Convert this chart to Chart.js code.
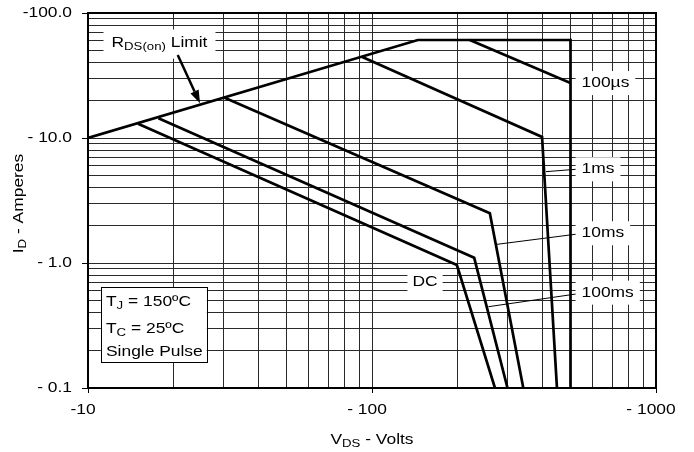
<!DOCTYPE html>
<html><head><meta charset="utf-8">
<script src="https://cdn.jsdelivr.net/npm/chart.js@4.4.0/dist/chart.umd.min.js"></script>
<style>html,body{margin:0;padding:0;background:#fff;}#wrap{width:694px;height:452px;}</style>
</head><body><div id="wrap"><canvas id="c" width="694" height="452"></canvas></div>
<script>
// ---------- data (V in volts, I in amperes; plotted as magnitudes) ----------
const limitV = [10, 145, 500, 500];
const limitI = [10, 60.8, 60.8, 0.1];
const us100V = [221, 500];
const us100I = [60.8, 27.5];
const ms1V = [92, 397, 448];
const ms1I = [44.6, 10.2, 0.1];
const ms10V = [30, 260, 341];
const ms10I = [21.2, 2.5, 0.1];
const ms100V = [17.7, 229, 300];
const ms100I = [14.4, 1.1, 0.1];
const dcV = [15, 199, 271];
const dcI = [13, 0.964, 0.1];

// tick labels
const xMajor = [10, 100, 1000];
const xMajorLabels = ['-10', '- 100', '- 1000'];
const yMajor = [0.1, 1, 10, 100];
const yMajorLabels = ['- 0.1', '- 1.0', '- 10.0', '-100.0'];

// curve labels (text, label V, label I, leader from V, leader from I, leader to V, leader to I)
const curveLabels = ['100µs', '1ms', '10ms', '100ms'];
const curveLabelV = [547, 547, 547, 547];
const curveLabelI = [27.5, 5.62, 1.73, 0.579];
const leaderFromV = [null, 410, 275, 257];
const leaderFromI = [null, 5.38, 1.41, 0.447];
const leaderToI = [null, 5.62, 1.70, 0.565];
const leaderToV = 523;
const dcLabel = 'DC';
const dcLabelV = 153.7, dcLabelI = 0.709;
const rdsLabelV = 12.1, rdsLabelI = 58;
const arrowFrom = [20.7, 46.1], arrowTo = [24.8, 18.95];
const condLines = [['T', 'J', ' = 150ºC'], ['T', 'C', ' = 25ºC'], ['Single Pulse', '', '']];
const condTextV = 11.57;
const condRowI = [0.49, 0.2965, 0.195];
const condBoxV = [11.1, 26.2], condBoxI = [0.643, 0.1614];

// ---------- helpers ----------
const FONT = '"Liberation Sans", Arial, sans-serif';
const SX = 1.2; // horizontal stretch of the reference lettering
const proto = CanvasRenderingContext2D.prototype;
const origFill = proto.fillText;
proto.fillText = function (t, x, y) {
  this.save(); this.translate(x, y); this.scale(SX, 1); origFill.call(this, t, 0, 0); this.restore();
};
function decadeGrid(lo, hi) {
  const out = [];
  for (let e = Math.round(Math.log10(lo)); e < Math.round(Math.log10(hi)); e++)
    for (let m = 1; m < 10; m++) out.push(+(m * Math.pow(10, e)).toPrecision(6));
  out.push(hi);
  return out;
}
const xGrid = decadeGrid(10, 1000);
const yGrid = decadeGrid(0.1, 100);
const isMajor = v => Math.abs(Math.log10(v) - Math.round(Math.log10(v))) < 1e-6;
function findLabel(arr, labels, v) {
  for (let i = 0; i < arr.length; i++) if (Math.abs(arr[i] - v) / arr[i] < 1e-6) return labels[i];
  return '';
}
const pts = (V, I) => V.map((v, i) => ({ x: v, y: I[i] }));
const ds = (V, I) => ({ data: pts(V, I), borderColor: '#000', borderWidth: 2.7, pointRadius: 0, tension: 0, fill: false, borderJoinStyle: 'miter', borderCapStyle: 'butt' });

function rich(ctx, parts, x, y, align) {
  let w = 0;
  parts.forEach(p => { ctx.font = p[1] + 'px ' + FONT; p.w = ctx.measureText(p[0]).width * SX; w += p.w; });
  let cx = align === 'center' ? x - w / 2 : align === 'right' ? x - w : x;
  ctx.textAlign = 'left'; ctx.textBaseline = 'middle'; ctx.fillStyle = '#000';
  parts.forEach(p => { ctx.font = p[1] + 'px ' + FONT; ctx.fillText(p[0], cx, y + p[2]); cx += p.w; });
  return w;
}

const annot = {
  id: 'annot',
  afterDatasetsDraw(chart) {
    const ctx = chart.ctx, xs = chart.scales.x, ys = chart.scales.y;
    const px = v => xs.getPixelForValue(v), py = v => ys.getPixelForValue(v);
    const ca = chart.chartArea;
    ctx.save();
    ctx.strokeStyle = '#000'; ctx.lineWidth = 2;
    ctx.strokeRect(ca.left, ca.top, ca.right - ca.left, ca.bottom - ca.top);

    ctx.lineWidth = 1; ctx.strokeStyle = '#000';
    for (let i = 0; i < curveLabels.length; i++) {
      if (leaderFromV[i] == null) continue;
      ctx.beginPath(); ctx.moveTo(px(leaderFromV[i]), py(leaderFromI[i])); ctx.lineTo(px(leaderToV), py(leaderToI[i])); ctx.stroke();
    }
    const big = 14.5;
    for (let i = 0; i < curveLabels.length; i++) {
      const x = px(curveLabelV[i]), y = py(curveLabelI[i]);
      ctx.font = big + 'px ' + FONT;
      const w = ctx.measureText(curveLabels[i]).width * SX;
      ctx.fillStyle = '#fff'; ctx.fillRect(x - 6, y - 12, w + 12, 24);
      rich(ctx, [[curveLabels[i], big, 0]], x, y, 'left');
    }
    {
      const x = px(dcLabelV), y = py(dcLabelI);
      ctx.font = big + 'px ' + FONT;
      const w = ctx.measureText(dcLabel).width * SX;
      ctx.fillStyle = '#fff'; ctx.fillRect(x - w / 2 - 5, y - 11, w + 10, 22);
      rich(ctx, [[dcLabel, big, 0]], x, y, 'center');
    }
    {
      const x = px(rdsLabelV), y = py(rdsLabelI);
      ctx.fillStyle = '#fff';
      const parts = [['R', big, 0], ['DS(on)', 11, 4], [' Limit', big, 0]];
      let w = 0; parts.forEach(p => { ctx.font = p[1] + 'px ' + FONT; w += ctx.measureText(p[0]).width * SX; });
      ctx.fillRect(x - 8, y - 13, w + 16, 29);
      rich(ctx, parts, x, y, 'left');
      const x1 = px(arrowFrom[0]), y1 = py(arrowFrom[1]), x2 = px(arrowTo[0]), y2 = py(arrowTo[1]);
      const ang = Math.atan2(y2 - y1, x2 - x1), hl = 13, hw = 4.5;
      const bx = x2 - hl * Math.cos(ang), by = y2 - hl * Math.sin(ang);
      ctx.strokeStyle = '#000'; ctx.lineWidth = 2.5;
      ctx.beginPath(); ctx.moveTo(x1, y1); ctx.lineTo(bx, by); ctx.stroke();
      ctx.fillStyle = '#000'; ctx.beginPath();
      ctx.moveTo(x2, y2);
      ctx.lineTo(bx + hw * Math.sin(ang), by - hw * Math.cos(ang));
      ctx.lineTo(bx - hw * Math.sin(ang), by + hw * Math.cos(ang));
      ctx.closePath(); ctx.fill();
    }
    {
      const x0 = px(condBoxV[0]), x1 = px(condBoxV[1]), y0 = py(condBoxI[0]), y1 = py(condBoxI[1]);
      ctx.fillStyle = '#fff'; ctx.fillRect(x0, y0, x1 - x0, y1 - y0);
      ctx.strokeStyle = '#000'; ctx.lineWidth = 1;
      ctx.strokeRect(Math.round(x0) + 0.5, Math.round(y0) + 0.5, Math.round(x1 - x0), Math.round(y1 - y0));
      condLines.forEach((l, i) => {
        rich(ctx, [[l[0], big, 0], [l[1], 11, 4], [l[2], big, 0]], px(condTextV), py(condRowI[i]), 'left');
      });
    }
    ctx.restore();
  },
  afterDraw(chart) {
    const ctx = chart.ctx, ca = chart.chartArea;
    ctx.save();
    rich(ctx, [['V', 14.5, 0], ['DS', 11, 4], [' - Volts', 14.5, 0]], (ca.left + ca.right) / 2, 440, 'center');
    ctx.translate(19, (ca.top + ca.bottom) / 2 + 3);
    ctx.rotate(-Math.PI / 2);
    rich(ctx, [['I', 14.5, 0], ['D', 11, 4], [' - Amperes', 14.5, 0]], 0, 0, 'center');
    ctx.restore();
  }
};

const gridCol = '#2a2a2a';
new Chart(document.getElementById('c'), {
  type: 'line',
  data: { datasets: [ds(limitV, limitI), ds(us100V, us100I), ds(ms1V, ms1I), ds(ms10V, ms10I), ds(ms100V, ms100I), ds(dcV, dcI)] },
  options: {
    responsive: false, animation: false, devicePixelRatio: 1,
    layout: { padding: { left: 0, top: 13, right: 38, bottom: 0 } },
    plugins: { legend: { display: false }, tooltip: { enabled: false } },
    scales: {
      x: {
        type: 'logarithmic', min: 10, max: 1000,
        afterBuildTicks: s => { s.ticks = xGrid.map(v => ({ value: v })); },
        afterFit: s => { s.height = 64; s.paddingLeft = 0; s.paddingRight = 0; s.paddingTop = 0; s.paddingBottom = 0; },
        ticks: { autoSkip: false, maxRotation: 0, minRotation: 0, padding: 8, labelOffset: -5, color: '#000',
          font: { family: FONT, size: 14.5 }, callback: v => findLabel(xMajor, xMajorLabels, v) },
        grid: { color: gridCol, lineWidth: 1, tickLength: 5, tickColor: c => (c.tick && isMajor(c.tick.value)) ? '#000' : 'rgba(0,0,0,0)' },
        border: { color: '#000', width: 2 }
      },
      y: {
        type: 'logarithmic', min: 0.1, max: 100,
        afterBuildTicks: s => { s.ticks = yGrid.map(v => ({ value: v })); },
        afterFit: s => { s.width = 88; s.paddingLeft = 0; s.paddingRight = 0; s.paddingTop = 0; s.paddingBottom = 0; },
        ticks: { autoSkip: false, padding: 10, color: '#000',
          font: { family: FONT, size: 14.5 }, callback: v => findLabel(yMajor, yMajorLabels, v) },
        grid: { color: gridCol, lineWidth: 1, tickLength: 6, tickColor: c => (c.tick && isMajor(c.tick.value)) ? '#000' : 'rgba(0,0,0,0)' },
        border: { color: '#000', width: 2 }
      }
    }
  },
  plugins: [annot]
});
</script></body></html>
